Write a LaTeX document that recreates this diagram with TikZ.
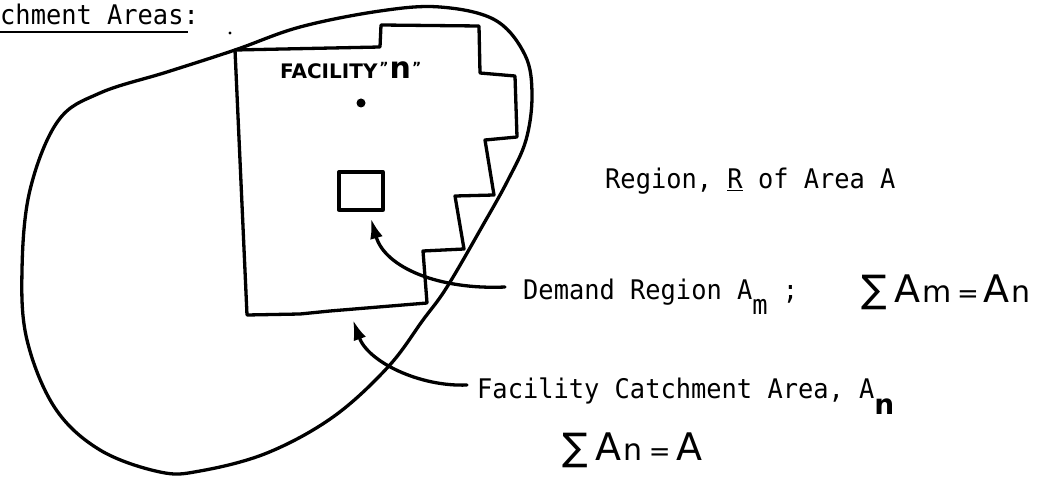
\documentclass[tikz,border=0pt]{standalone}
\usepackage{fontspec}
\newfontfamily\tw{DejaVu Sans Mono}[FakeStretch=0.94]
\newfontfamily\hw{DejaVu Sans}
\newfontfamily\hwb{DejaVu Sans Bold}
\usetikzlibrary{arrows.meta}
\begin{document}
\begin{tikzpicture}[x=1pt,y=-1pt, line join=round, line cap=round,
  stroke/.style={line width=3.3pt},
  twtext/.style={font=\tw\fontsize{27}{30}\selectfont, inner sep=0pt, anchor=base west},
  hwtext/.style={font=\hw\fontsize{38}{40}\selectfont, inner sep=0pt, anchor=base west},
  hwsmall/.style={font=\hwb\fontsize{20}{22}\selectfont, inner sep=0pt, anchor=base west},
  arr/.style={stroke, -{Latex[length=20pt,width=13pt]}},
  demandbox/.style={draw, stroke, minimum width=44pt, minimum height=38pt, inner sep=0pt}]
\useasboundingbox (0,0) rectangle (1060,478);

% title
\node[twtext] (title) at (0,25) {chment Areas:};
\draw[line width=1.8pt, line cap=butt] (0,32) -- (188,32);
\fill (230,33) circle (1.6pt);

% region R (blob)
\draw[stroke] plot[smooth cycle, tension=0.6] coordinates {
  (235,50) (300,27) (380,11) (440,7) (495,20) (525,55) (532,95) (526,140)
  (508,180) (483,225) (447,287) (423,320) (388,367) (333,417) (267,453)
  (200,471) (160,472) (100,450) (55,408) (27,340) (22,270) (30,190)
  (58,121) (100,93) (167,72)};

% facility catchment area
\draw[stroke] (235,50) -- (380,47) -- (381,25) -- (479,26) -- (480,73)
  -- (515,76) -- (517,137) -- (485,140) -- (494,195) -- (455,196)
  -- (464,249) -- (423,251) -- (427,303) -- (330,311) -- (300,314)
  -- (247,315) -- cycle;

% facility
\node[hwsmall] (fac) at (280,79) {FACILITY\kern2pt\raisebox{6pt}{\fontsize{14}{14}\selectfont ”}\kern1pt{\fontsize{30}{30}\selectfont n}\kern1pt\raisebox{6pt}{\fontsize{14}{14}\selectfont ”}};
\fill (361,103) circle (4.5pt) coordinate (facdot);

% demand region box
\node[demandbox] (dbox) at (361,191) {};

% labels
\node[twtext] (reg) at (605,189) {Region, \underline{R} of Area A};
\node[twtext] (dem) at (523,300) {Demand Region A\raisebox{-14pt}{m} ;};
\node[hwtext] (summ) at (861,302) {∑\kern8pt A\kern2pt{\fontsize{30}{30}\selectfont m}\kern5pt{\fontsize{26}{26}\selectfont =}\kern5pt A\kern2pt{\fontsize{30}{30}\selectfont n}};
\node[twtext] (fca) at (477,398) {Facility Catchment Area, A\raisebox{-16pt}{\hwb\fontsize{28}{28}\selectfont n}};
\node[hwtext] (sumn) at (562,460) {∑\kern8pt A\kern2pt{\fontsize{30}{30}\selectfont n}\kern6pt{\fontsize{26}{26}\selectfont =}\kern6pt A};

% connectors
\coordinate (dstart) at ([xshift=-18pt,yshift=13pt]dem.base west);
\coordinate (dtip) at ([xshift=10pt,yshift=-7pt]dbox.south);
\draw[arr] (dstart) .. controls (440,290) and (385,268) .. (dtip);

\coordinate (fstart) at ([xshift=-10pt,yshift=13pt]fca.base west);
\coordinate (ftip) at (353,320);
\draw[arr] (fstart) .. controls (420,387) and (368,362) .. (ftip);
\end{tikzpicture}
\end{document}
